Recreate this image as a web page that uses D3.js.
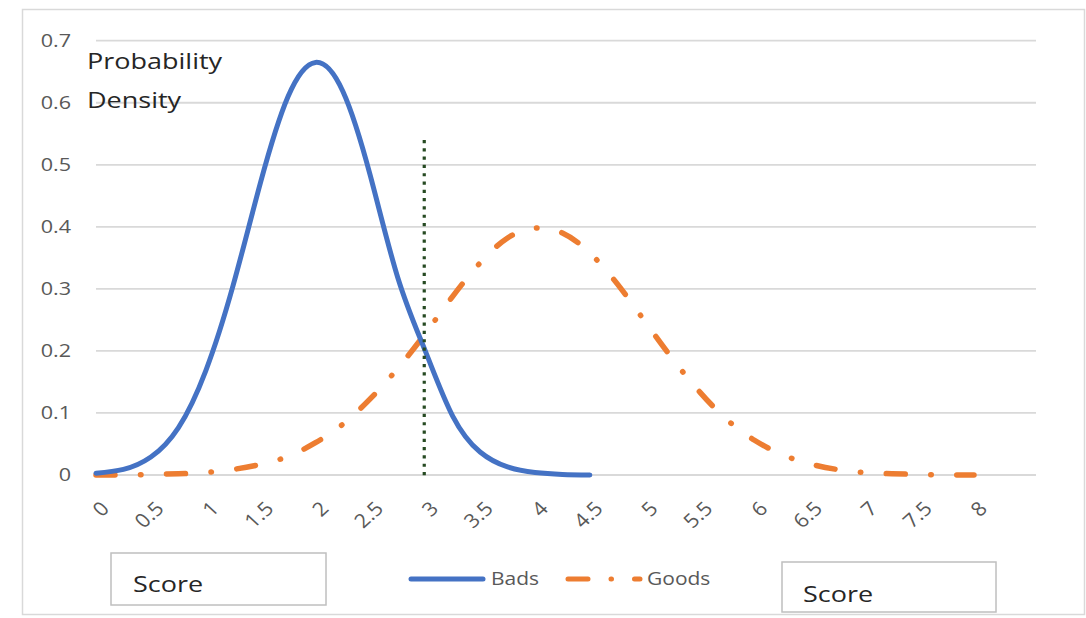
<!DOCTYPE html>
<html>
<head>
<meta charset="utf-8">
<script src="https://cdn.jsdelivr.net/npm/d3@7"></script>
<style>
  html, body { margin: 0; padding: 0; background: #fff; }
  svg { display: block; }
  text { font-family: "Open Sans", "Noto Sans", sans-serif; }
</style>
</head>
<body>
<svg id="chart" width="1086" height="618"></svg>
<script>
// ---- data ----
const scoreValues = [0, 0.25, 0.5, 0.75, 1, 1.25, 1.5, 1.75, 2, 2.25, 2.5, 2.75, 3, 3.25, 3.5, 3.75, 4, 4.25, 4.5,
                     4.75, 5, 5.25, 5.5, 5.75, 6, 6.25, 6.5, 6.75, 7, 7.25, 7.5, 7.75, 8];
const badsValues = [0.003, 0.009, 0.029, 0.076, 0.168, 0.306, 0.472, 0.610, 0.665, 0.618, 0.482, 0.318, 0.200,
                    0.095, 0.037, 0.013, 0.004, 0.001, 0.000];
const goodsValues = [0.000, 0.000, 0.001, 0.002, 0.004, 0.009, 0.017, 0.030, 0.052, 0.082, 0.123, 0.172, 0.228,
                     0.288, 0.342, 0.382, 0.398, 0.390, 0.358, 0.308, 0.248, 0.188, 0.134, 0.089, 0.056, 0.033,
                     0.018, 0.009, 0.004, 0.002, 0.001, 0.000, 0.000];
const xTickLabels = ["0", "0.5", "1", "1.5", "2", "2.5", "3", "3.5", "4", "4.5", "5", "5.5", "6", "6.5", "7", "7.5", "8"];
const yTickLabels = ["0", "0.1", "0.2", "0.3", "0.4", "0.5", "0.6", "0.7"];
const cutoffScore = 3;
const cutoffTop = 0.54;
const seriesNames = ["Bads", "Goods"];
const yAxisTitle = ["Probability", "Density"];
const xAxisTitle = "Score";

// ---- drawing ----
const svg = d3.select("#chart");
const W = 1086, H = 618;
const STRETCH = 1.2;

svg.append("rect").attr("x", 0).attr("y", 0).attr("width", W).attr("height", H).attr("fill", "#fff");
svg.append("rect").attr("x", 22.5).attr("y", 9.5).attr("width", 1062).attr("height", 605)
   .attr("fill", "none").attr("stroke", "#d9d9d9").attr("stroke-width", 1.5);

const x = d3.scaleLinear().domain([0, 8.565]).range([96, 1036]);
const y = d3.scaleLinear().domain([0, 0.7]).range([475, 40.7]);

// gridlines
const yTicks = yTickLabels.map(Number);
svg.append("g").selectAll("line").data(yTicks).join("line")
  .attr("x1", x.range()[0]).attr("x2", x.range()[1])
  .attr("y1", d => y(d)).attr("y2", d => y(d))
  .attr("stroke", "#d9d9d9").attr("stroke-width", 1.8);

// y tick labels
svg.append("g").selectAll("text").data(yTickLabels).join("text")
  .attr("transform", d => `translate(71,${y(+d)}) scale(${STRETCH},1)`)
  .attr("text-anchor", "end").attr("dy", "0.35em")
  .attr("font-size", 18).attr("fill", "#595959")
  .text(d => d);

// x tick labels (rotated)
svg.append("g").selectAll("text").data(xTickLabels).join("text")
  .attr("transform", d => `translate(${x(+d) + 9},505) scale(1.1,1) rotate(-45)`)
  .attr("text-anchor", "end").attr("dy", "0.35em")
  .attr("font-size", 19.5).attr("fill", "#595959")
  .text(d => d);

// series
const bads = badsValues.map((v, i) => [scoreValues[i], v]);
const goods = goodsValues.map((v, i) => [scoreValues[i], v]);
const line = d3.line().x(d => x(d[0])).y(d => y(d[1])).curve(d3.curveNatural);

const goodsDash = "19,25.5,0.5,25.5";

svg.append("path").attr("d", line(goods))
  .attr("fill", "none").attr("stroke", "#ED7D31").attr("stroke-width", 5.5)
  .attr("stroke-linecap", "round").attr("stroke-dasharray", goodsDash);

svg.append("path").attr("d", line(bads))
  .attr("fill", "none").attr("stroke", "#4472C4").attr("stroke-width", 5)
  .attr("stroke-linecap", "round").attr("stroke-linejoin", "round");

// cutoff dotted line
svg.append("line")
  .attr("x1", x(cutoffScore) - 1).attr("x2", x(cutoffScore) - 1)
  .attr("y1", y(cutoffTop)).attr("y2", y(-0.008))
  .attr("stroke", "#264a22").attr("stroke-width", 3.2).attr("stroke-dasharray", "3.2,5.1");

// y axis title
svg.append("g").selectAll("text").data(yAxisTitle).join("text")
  .attr("transform", (d, i) => `translate(87,${69 + i * 39}) scale(${STRETCH},1)`)
  .attr("font-size", 22.5).attr("fill", "#262626")
  .text(d => d);

// legend
const legend = svg.append("g");
legend.append("line").attr("x1", 411).attr("x2", 483).attr("y1", 579).attr("y2", 579)
  .attr("stroke", "#4472C4").attr("stroke-width", 5).attr("stroke-linecap", "round");
legend.append("text").attr("transform", `translate(491,585) scale(${STRETCH},1)`)
  .attr("font-size", 17.5).attr("fill", "#595959").text(seriesNames[0]);
legend.append("line").attr("x1", 568).attr("x2", 640).attr("y1", 579).attr("y2", 579)
  .attr("stroke", "#ED7D31").attr("stroke-width", 5).attr("stroke-linecap", "round")
  .attr("stroke-dasharray", "20,23,0.5,23");
legend.append("text").attr("transform", `translate(647,585) scale(${STRETCH},1)`)
  .attr("font-size", 17.5).attr("fill", "#595959").text(seriesNames[1]);

// score boxes
const boxes = [{bx: 111, by: 553, bw: 215, bh: 52, tx: 133, ty: 592},
               {bx: 782, by: 562, bw: 214, bh: 50, tx: 803, ty: 602}];
boxes.forEach(b => {
  svg.append("rect").attr("x", b.bx).attr("y", b.by).attr("width", b.bw).attr("height", b.bh)
    .attr("fill", "#fff").attr("stroke", "#bfbfbf").attr("stroke-width", 1.5);
  svg.append("text").attr("transform", `translate(${b.tx},${b.ty}) scale(${STRETCH},1)`)
    .attr("font-size", 22.5).attr("fill", "#262626").text(xAxisTitle);
});
</script>
</body>
</html>
